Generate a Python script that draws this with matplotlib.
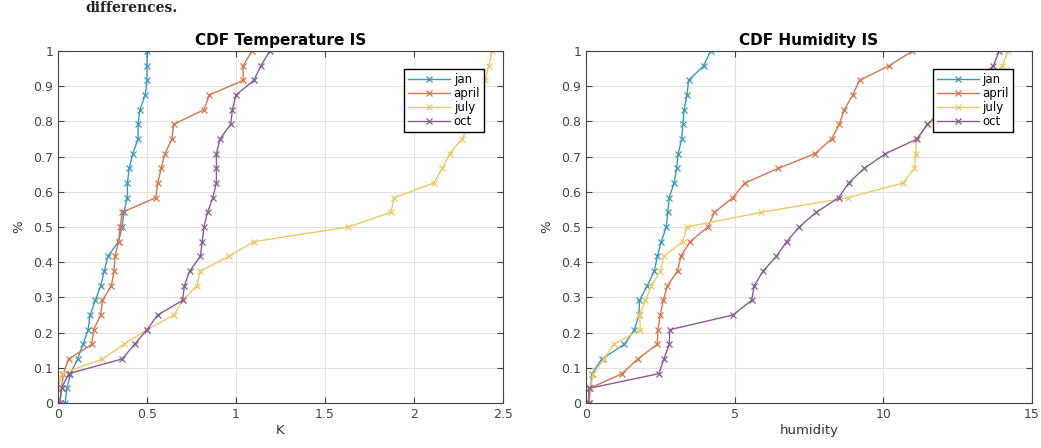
import numpy as np
import matplotlib
matplotlib.use('Agg')
import matplotlib.pyplot as plt

# CDF levels (25 samples per month -> step 1/24)
cdf_y = np.arange(25) / 24.0

# temperature differences [K]
temp_jan = [0.04, 0.05, 0.07, 0.11, 0.14, 0.17, 0.18, 0.21, 0.24, 0.26, 0.28, 0.34, 0.36,
            0.37, 0.39, 0.39, 0.40, 0.42, 0.45, 0.45, 0.46, 0.49, 0.50, 0.50, 0.50]
temp_apr = [0.01, 0.02, 0.03, 0.06, 0.19, 0.20, 0.24, 0.25, 0.30, 0.315, 0.32, 0.34, 0.35,
            0.36, 0.55, 0.56, 0.58, 0.60, 0.64, 0.65, 0.82, 0.85, 1.04, 1.04, 1.09]
temp_jul = [0.0, 0.0, 0.02, 0.25, 0.37, 0.50, 0.65, 0.70, 0.78, 0.80, 0.96, 1.10, 1.63,
            1.87, 1.89, 2.11, 2.16, 2.20, 2.27, 2.31, 2.34, 2.37, 2.40, 2.42, 2.44]
temp_oct = [0.01, 0.02, 0.06, 0.36, 0.43, 0.50, 0.56, 0.70, 0.71, 0.74, 0.80, 0.81, 0.82,
            0.84, 0.87, 0.89, 0.89, 0.89, 0.91, 0.97, 0.98, 1.00, 1.10, 1.14, 1.19]

# humidity differences
hum_jan = [0.1, 0.15, 0.2, 0.53, 1.29, 1.63, 1.78, 1.8, 2.06, 2.3, 2.4, 2.53, 2.7,
           2.75, 2.8, 2.96, 3.05, 3.1, 3.22, 3.26, 3.3, 3.4, 3.45, 3.96, 4.19]
hum_apr = [0.1, 0.12, 1.21, 1.74, 2.4, 2.42, 2.5, 2.6, 2.74, 3.08, 3.19, 3.5, 4.1,
           4.32, 4.94, 5.34, 6.47, 7.7, 8.26, 8.52, 8.69, 8.97, 9.2, 10.2, 10.98]
hum_jul = [0.1, 0.15, 0.25, 0.6, 0.93, 1.83, 1.8, 2.0, 2.2, 2.5, 2.62, 3.25, 3.4,
           5.88, 8.8, 10.67, 11.04, 11.1, 11.1, 11.5, 12.2, 13.0, 13.6, 14.0, 14.2]
hum_oct = [0.1, 0.1, 2.45, 2.62, 2.8, 2.82, 4.94, 5.57, 5.66, 5.96, 6.4, 6.75, 7.17,
           7.74, 8.5, 8.83, 9.36, 10.07, 11.14, 11.48, 12.0, 12.6, 13.2, 13.7, 13.9]

months = ['jan', 'april', 'july', 'oct']
colors = ['#3a9ab8', '#d8744a', '#efc865', '#8a5a96']

fig = plt.figure(figsize=(10.41, 4.48), dpi=100)

# line of document text above the figure
fig.text(0.082, 0.997, 'differences.', family='DejaVu Serif', fontweight='bold',
         fontsize=10, color='#222222', va='top', ha='left')

ax1 = fig.add_axes([0.0557, 0.1004, 0.4275, 0.7857])
ax2 = fig.add_axes([0.5629, 0.1004, 0.4284, 0.7857])

def cdf_panel(ax, series, title, xlabel, xlim, xticks):
    for vals, c, lab in zip(series, colors, months):
        ax.plot(vals, cdf_y, '-x', color=c, lw=1.0, ms=5, mew=0.9, label=lab)
    ax.set_xlim(xlim)
    ax.set_ylim(0, 1)
    ax.set_xticks(xticks)
    ax.set_xticklabels([('%g' % t) for t in xticks])
    ax.set_yticks(np.arange(0, 1.01, 0.1))
    ax.set_yticklabels(['0', '0.1', '0.2', '0.3', '0.4', '0.5', '0.6', '0.7', '0.8', '0.9', '1'])
    ax.grid(True, color='#e2e2e2', lw=0.8)
    ax.set_axisbelow(True)
    ax.tick_params(direction='in', top=True, right=True, length=4, labelsize=9,
                   colors='#444444', labelcolor='#444444')
    for s in ax.spines.values():
        s.set_color('#444444')
        s.set_linewidth(0.8)
    ax.set_title(title, fontsize=11, fontweight='bold', pad=4)
    ax.set_xlabel(xlabel, fontsize=9.5, color='#333333', labelpad=2)
    ax.set_ylabel('%', fontsize=9.5, color='#333333', labelpad=6)
    leg = ax.legend(loc='upper right', fontsize=8.5, fancybox=False, framealpha=1,
                    edgecolor='black', borderpad=0.3, labelspacing=0.1,
                    handlelength=3.6, handletextpad=0.3, bbox_to_anchor=(0.97, 0.965))
    leg.get_frame().set_linewidth(1.0)

cdf_panel(ax1, [temp_jan, temp_apr, temp_jul, temp_oct], 'CDF Temperature IS', 'K',
          (0, 2.5), [0, 0.5, 1, 1.5, 2, 2.5])
cdf_panel(ax2, [hum_jan, hum_apr, hum_jul, hum_oct], 'CDF Humidity IS', 'humidity',
          (0, 15), [0, 5, 10, 15])

fig.savefig('out.png', dpi=100)
